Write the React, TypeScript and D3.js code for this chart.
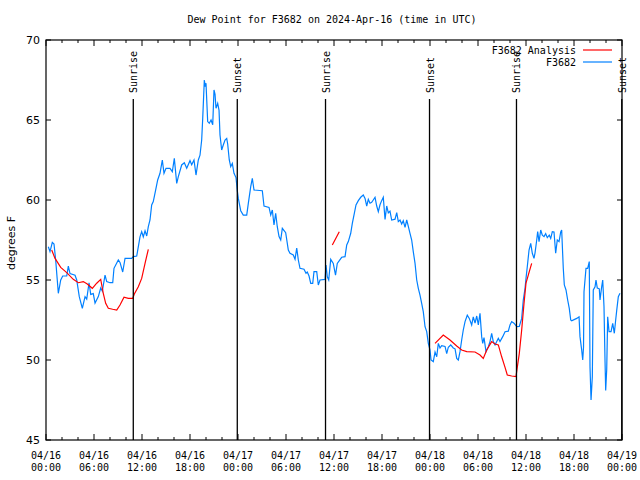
import React from "react";
import * as d3 from "d3";

const TITLE = "Dew Point for F3682 on 2024-Apr-16 (time in UTC)";
const Y_LABEL = "degrees F";

// hours since 2024-04-16 00:00 UTC
const obsHours = [0.29,0.5,0.79,1.0,1.21,1.54,1.84,2.09,2.59,2.79,3.0,3.63,3.84,4.16,4.54,4.88,5.09,5.38,5.59,5.91,6.13,6.54,6.84,7.04,7.38,7.59,8.0,8.34,8.5,9.04,9.25,9.59,9.88,10.71,10.91,11.34,11.75,11.96,12.16,12.38,12.59,12.79,13.0,13.21,13.41,13.71,13.96,14.25,14.54,14.75,15.0,15.5,15.79,16.04,16.34,16.54,16.96,17.29,17.59,18.0,18.21,18.5,18.75,19.04,19.25,19.46,19.59,19.79,19.91,20.0,20.21,20.41,20.63,20.84,21.0,21.13,21.25,21.46,21.63,21.75,21.96,22.16,22.38,22.59,22.71,22.91,23.09,23.29,23.5,23.75,23.91,24.04,24.34,24.66,25.09,25.29,25.59,25.79,26.0,27.04,27.25,27.88,28.09,28.29,28.5,28.71,28.91,29.13,29.34,29.54,29.96,30.29,30.5,30.91,31.13,31.34,31.54,31.75,32.25,32.5,32.66,32.88,33.09,33.34,33.5,33.84,34.04,34.25,34.88,35.0,35.16,35.34,35.59,35.91,36.19,36.41,36.96,37.38,37.59,37.79,38.09,38.29,38.54,38.75,39.04,39.34,39.66,39.88,40.09,40.29,40.5,40.71,40.91,41.13,41.34,41.54,41.75,41.96,42.16,42.38,42.59,42.79,43.0,43.21,43.63,43.84,44.04,44.25,44.46,44.66,44.88,45.09,45.29,45.5,45.71,45.91,46.13,46.34,46.54,46.75,46.96,47.16,47.38,47.59,47.79,48.0,48.13,48.41,48.63,48.84,49.04,49.25,49.46,49.88,50.09,50.29,50.59,50.91,51.13,51.34,51.54,51.75,51.96,52.16,52.38,52.66,52.91,53.21,53.41,53.63,53.84,54.04,54.25,54.46,54.59,54.75,55.0,55.29,55.5,55.71,55.91,56.13,56.34,56.54,56.75,57.09,57.38,57.79,58.0,58.21,58.5,58.84,59.16,59.46,59.66,59.88,60.0,60.16,60.38,60.59,60.79,61.0,61.13,61.34,61.46,61.63,61.84,62.04,62.25,62.46,62.66,62.91,63.09,63.29,63.5,63.71,63.91,64.13,64.34,64.46,64.66,64.79,65.0,65.21,65.41,65.59,65.71,66.34,66.63,66.75,66.96,67.09,67.19,67.25,67.5,67.71,67.91,68.0,68.13,68.29,68.41,68.63,68.75,68.91,69.16,69.25,69.46,69.59,69.75,69.88,69.96,70.09,70.21,70.38,70.63,70.84,71.04,71.21,71.34,71.54,71.75];
const obsValues = [57.08,56.77,57.35,57.25,56.25,54.17,55.0,55.25,55.25,55.87,55.4,55.3,55.0,53.96,53.23,53.96,53.8,54.83,54.1,54.15,53.56,53.96,54.5,54.3,55.3,54.9,54.83,54.83,55.73,56.25,56.1,55.5,56.35,56.35,56.46,56.5,57.7,58.02,57.7,58.08,57.75,58.33,58.75,59.69,59.9,60.63,61.25,61.67,62.5,61.67,61.98,61.98,61.77,62.6,61.04,61.46,62.19,62.33,61.98,62.46,62.2,62.5,61.56,62.5,62.8,63.75,65.1,67.5,67.08,67.3,64.9,64.8,65.0,64.7,66.875,66.6,65.73,66.04,65.6,64.06,63.125,63.44,63.75,63.85,63.5,62.5,62.08,62.29,61.67,61.4,60.6,60.1,59.33,59.06,59.06,59.79,60.83,61.35,60.625,60.58,59.625,59.54,59.06,59.375,58.44,59.17,58.33,57.71,57.5,58.23,57.96,56.875,56.67,56.56,56.3,57.0,56.25,55.73,55.67,55.42,55.5,55.25,54.79,54.79,55.52,55.52,54.69,55.0,55.04,55.94,55.2,55.0,56.29,56.04,55.3,56.04,56.42,56.46,57.19,57.4,57.92,58.54,59.17,59.69,59.96,60.17,60.31,60.1,59.625,60.04,59.8,59.85,60.0,60.17,59.625,59.27,59.7,59.96,60.17,58.79,59.625,59.2,59.3,58.75,58.8,59.21,58.65,58.75,58.5,58.7,58.29,58.75,58.35,57.92,57.5,56.77,56.04,55.0,54.48,54.06,53.54,53.02,52.08,51.77,51.04,50.625,50.0,49.9,50.5,50.2,51.04,50.75,50.9,50.85,50.4,50.8,50.94,50.75,50.7,50.1,50.0,50.52,51.25,51.875,52.4,52.8,52.6,52.19,52.7,52.3,52.75,52.2,52.92,51.46,51.04,51.4,50.52,50.83,51.15,51.67,51.15,50.94,51.15,51.35,51.15,51.46,51.77,51.8,52.19,52.4,52.3,52.08,52.1,52.6,53.75,54.48,55.1,55.83,56.875,57.29,56.67,56.35,56.7,57.5,58.02,57.4,58.125,57.8,57.71,57.9,57.65,57.8,57.6,58.02,58.0,56.67,57.5,57.4,58.0,58.125,55.73,54.69,54.375,53.75,53.23,52.5,52.45,52.6,52.7,51.46,50.625,50.0,50.8,54.27,55.73,55.73,56.15,49.58,47.5,48.96,54.375,54.58,55.0,54.5,54.45,53.75,54.58,55.0,53.33,49.9,48.1,49.4,52.7,51.77,51.77,52.29,51.67,52.5,53.1,53.96,54.17];

// Analysis series; null marks a gap
const anaHours = [0.71,1.13,1.84,2.59,3.41,4.04,4.66,5.16,5.79,6.34,6.84,7.16,7.46,7.79,8.34,8.84,9.25,9.75,10.29,10.84,11.04,11.54,11.96,12.38,12.79,20.0,35.79,36.66,40.0,48.63,49.66,50.5,51.34,51.96,52.59,53.63,54.25,54.66,55.09,55.71,56.13,56.54,56.96,57.38,57.66,58.21,58.75,58.91,59.16,59.46,59.75,60.0,60.41,60.71];
const anaValues: (number | null)[] = [56.875,56.35,55.79,55.46,55.04,54.83,54.9,54.75,54.48,54.8,55.04,54.17,53.54,53.23,53.17,53.125,53.44,53.92,53.85,53.85,54.125,54.58,55.1,56.04,56.92,null,57.19,58.02,null,51.04,51.56,51.25,50.875,50.625,50.52,50.5,50.31,50.1,50.625,51.15,51.0,50.94,50.2,49.54,49.06,49.0,48.96,49.54,50.4,51.875,53.54,54.8,55.52,56.04];

const eventLabels = ["Sunrise", "Sunset", "Sunrise", "Sunset", "Sunrise", "Sunset"];
const eventHours = [10.91, 23.91, 34.94, 47.94, 58.81, 71.97];

const xTickHours = [0, 6, 12, 18, 24, 30, 36, 42, 48, 54, 60, 66, 72];
const xTickDates = ["04/16","04/16","04/16","04/16","04/17","04/17","04/17","04/17","04/18","04/18","04/18","04/18","04/19"];
const xTickTimes = ["00:00","06:00","12:00","18:00","00:00","06:00","12:00","18:00","00:00","06:00","12:00","18:00","00:00"];
const yTicks = [45, 50, 55, 60, 65, 70];

const seriesNames = ["F3682 Analysis", "F3682"];
const seriesColors = ["#ff0000", "#0080ff"];

export default function App() {
  const W = 640, H = 480;
  const L = 46, R = 622, T = 40, B = 440;
  const x = d3.scaleLinear().domain([0, 72]).range([L, R]);
  const y = d3.scaleLinear().domain([45, 70]).range([B, T]);
  const mono = "'DejaVu Sans Mono', monospace";
  const sans = "'DejaVu Sans', sans-serif";

  const obs = obsHours.map((h, i) => ({ h, v: obsValues[i] as number | null }));
  const ana = anaHours.map((h, i) => ({ h, v: anaValues[i] }));
  const line = d3
    .line<{ h: number; v: number | null }>()
    .defined((d) => d.v !== null)
    .x((d) => x(d.h))
    .y((d) => y(d.v as number));

  const minor = d3.range(0, 73, 2);

  return (
    <svg width={W} height={H} style={{ position: "absolute", left: 0, top: 0, background: "#fff" }}>
      <rect x={0} y={0} width={W} height={H} fill="#fff" />
      <text x={332} y={23} textAnchor="middle" fontFamily={mono} fontSize={10}>{TITLE}</text>

      {/* x ticks top and bottom */}
      {minor.map((h) => {
        const len = h % 6 === 0 ? 6 : 3;
        return (
          <g key={"xt" + h}>
            <line x1={x(h)} x2={x(h)} y1={B} y2={B - len} stroke="#000" />
            <line x1={x(h)} x2={x(h)} y1={T} y2={T + len} stroke="#000" />
          </g>
        );
      })}
      {yTicks.map((v) => (
        <g key={"yt" + v}>
          <line x1={L} x2={L + 5} y1={y(v)} y2={y(v)} stroke="#000" />
          <line x1={R} x2={R - 5} y1={y(v)} y2={y(v)} stroke="#000" />
          <text x={40} y={y(v) + 4} textAnchor="end" fontFamily={sans} fontSize={11}>{v}</text>
        </g>
      ))}
      {xTickHours.map((h, i) => (
        <g key={"xl" + h}>
          <text x={x(h)} y={459} textAnchor="middle" fontFamily={mono} fontSize={10}>{xTickDates[i]}</text>
          <text x={x(h)} y={471} textAnchor="middle" fontFamily={mono} fontSize={10}>{xTickTimes[i]}</text>
        </g>
      ))}
      <text transform={`translate(15,243) rotate(-90)`} textAnchor="middle" fontFamily={sans} fontSize={11}>{Y_LABEL}</text>

      {/* series */}
      <path d={line(obs) || ""} fill="none" stroke={seriesColors[1]} strokeWidth={1.2} />
      <path d={line(ana) || ""} fill="none" stroke={seriesColors[0]} strokeWidth={1.2} />

      {/* sunrise / sunset */}
      {eventHours.map((h, i) => (
        <g key={"ev" + i}>
          <line x1={x(h)} x2={x(h)} y1={99} y2={B} stroke="#000" strokeWidth={1.3} />
          <text transform={`translate(${x(h) + 1},93) rotate(-90)`} textAnchor="start" dominantBaseline="middle" fontFamily={mono} fontSize={10}>{eventLabels[i]}</text>
        </g>
      ))}

      {/* legend */}
      {seriesNames.map((n, i) => (
        <g key={"lg" + i}>
          <text x={576} y={54 + i * 12} textAnchor="end" fontFamily={mono} fontSize={10}>{n}</text>
          <line x1={583} x2={612} y1={50 + i * 12} y2={50 + i * 12} stroke={seriesColors[i]} strokeWidth={1.2} />
        </g>
      ))}

      <rect x={L} y={T} width={R - L} height={B - T} fill="none" stroke="#000" strokeWidth={1.2} />
    </svg>
  );
}
